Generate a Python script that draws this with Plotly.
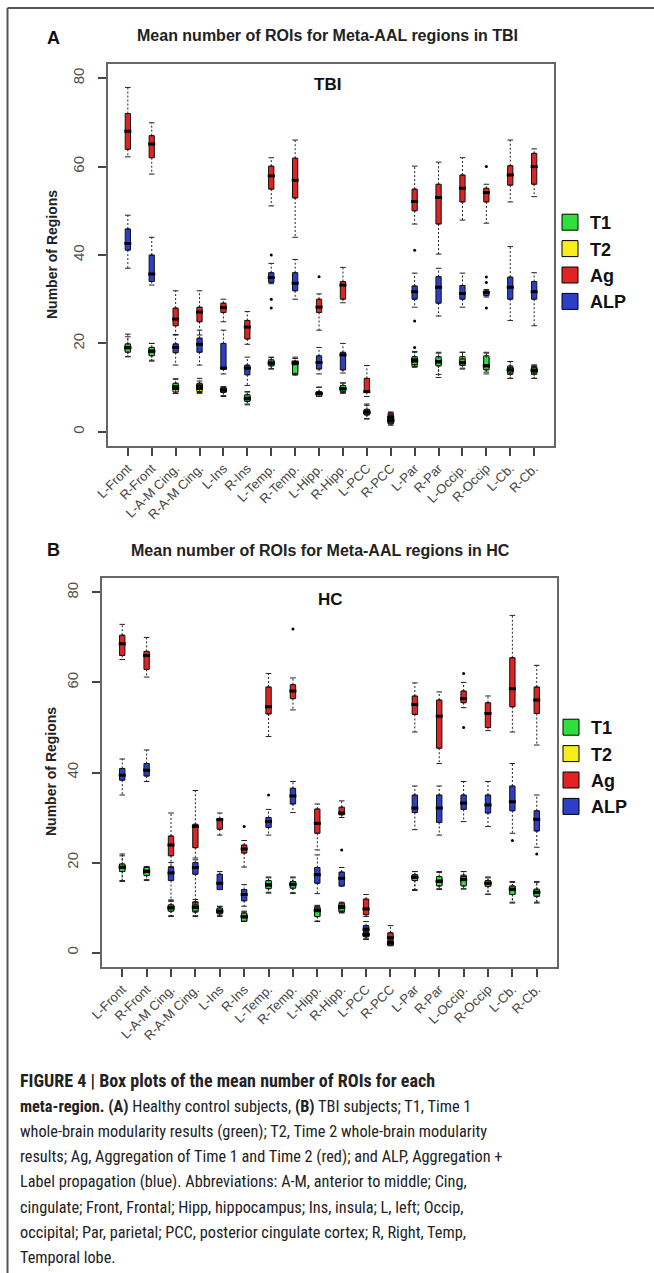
import plotly.graph_objects as go

CATEGORIES = ["L-Front", "R-Front", "L-A-M Cing.", "R-A-M Cing.", "L-Ins", "R-Ins",
              "L-Temp.", "R-Temp.", "L-Hipp.", "R-Hipp.", "L-PCC", "R-PCC",
              "L-Par", "R-Par", "L-Occip.", "R-Occip", "L-Cb.", "R-Cb."]
Y_TICKS = [0, 20, 40, 60, 80]
SERIES_NAMES = ["T1", "T2", "Ag", "ALP"]
SERIES_COLORS = ["#2fe03c", "#f6ec1e", "#e02424", "#2d3fc6"]

# each entry: (lower whisker, Q1, median, Q3, upper whisker) per category
TBI_T1 = [(17.0, 18.0, 19.1, 19.9, 22.1), (16.0, 17.2, 18.3, 19.1, 20.0),
          (8.7, 9.6, 10.2, 11.0, 11.9), (8.7, 9.6, 10.4, 11.0, 12.1),
          (8.0, 8.9, 9.5, 10.0, 10.2), (6.1, 6.9, 7.6, 8.4, 9.1),
          (14.2, 14.9, 15.5, 16.3, 16.9), (12.9, 12.9, 15.8, 15.9, 16.9),
          (8.0, 8.5, 8.7, 9.0, 10.1), (8.7, 9.1, 9.7, 10.5, 11.1),
          (3.0, 4.0, 4.4, 4.8, 6.0), (2.0, 2.2, 2.6, 3.0, 3.4),
          (14.8, 15.2, 16.3, 17.0, 18.2), (12.3, 14.9, 15.9, 17.0, 18.0),
          (14.2, 15.0, 15.7, 16.5, 18.0), (13.1, 14.0, 14.9, 17.2, 18.0),
          (12.1, 13.3, 14.0, 14.6, 15.9), (12.1, 13.3, 14.0, 14.6, 15.1)]
TBI_T2 = [(17.0, 18.2, 19.0, 19.7, 21.5), (16.2, 17.4, 18.2, 19.0, 20.0),
          (8.7, 9.0, 9.8, 10.8, 12.0), (8.9, 9.1, 9.9, 10.6, 11.5),
          (8.2, 9.0, 9.4, 9.9, 10.2), (6.3, 7.0, 7.5, 8.2, 9.0),
          (14.3, 15.0, 15.6, 16.1, 16.8), (13.2, 13.4, 15.4, 15.8, 16.6),
          (8.0, 8.0, 8.6, 9.1, 10.1), (8.9, 9.3, 9.8, 10.3, 11.0),
          (2.9, 3.8, 4.4, 5.1, 6.3), (2.0, 2.2, 2.5, 2.9, 3.3),
          (14.6, 14.8, 16.0, 16.8, 18.0), (13.0, 15.1, 15.8, 16.6, 17.8),
          (14.4, 15.2, 15.6, 17.0, 18.0), (13.5, 14.3, 15.0, 16.8, 17.8),
          (12.1, 13.0, 14.0, 14.9, 15.9), (12.1, 13.0, 13.8, 14.8, 15.1)]
TBI_AG = [(62.2, 63.9, 68.0, 72.0, 77.9), (58.3, 62.0, 65.1, 67.0, 69.9),
          (21.9, 24.0, 25.5, 28.0, 31.9), (21.9, 24.9, 27.1, 28.2, 31.9),
          (24.9, 27.0, 28.1, 29.1, 30.0), (19.8, 21.0, 23.7, 25.2, 27.2),
          (51.1, 54.9, 57.9, 60.1, 62.0), (44.0, 52.9, 56.9, 61.9, 66.0),
          (23.0, 27.0, 28.2, 30.0, 31.2), (29.2, 30.0, 33.2, 34.0, 37.2),
          (8.0, 8.9, 9.1, 12.1, 15.0), (1.8, 2.0, 3.3, 4.3, 4.5),
          (47.0, 50.0, 52.1, 54.9, 60.1), (40.2, 47.0, 53.0, 56.0, 61.0),
          (47.9, 52.0, 55.1, 58.1, 62.0), (47.2, 52.0, 54.1, 55.1, 56.0),
          (52.0, 55.8, 58.1, 60.2, 66.0), (53.2, 56.0, 60.0, 63.0, 64.0)]
TBI_ALP = [(37.0, 41.1, 42.6, 45.9, 49.0), (33.2, 34.0, 35.7, 40.0, 44.0),
           (15.1, 17.9, 19.1, 19.9, 22.0), (15.1, 18.0, 19.8, 21.2, 23.0),
           (13.1, 14.2, 14.4, 20.0, 23.0), (10.5, 12.9, 14.4, 15.1, 16.9),
           (33.5, 33.8, 34.9, 36.0, 38.1), (30.0, 31.9, 33.6, 36.0, 39.0),
           (13.1, 14.2, 15.7, 17.2, 19.1), (13.3, 14.0, 17.4, 18.0, 20.0),
           (4.0, 4.3, 4.5, 4.7, 5.0), (1.5, 1.8, 2.6, 3.6, 4.0),
           (28.2, 30.0, 31.7, 33.0, 35.9), (26.2, 29.1, 32.7, 35.1, 37.0),
           (28.2, 30.0, 31.3, 33.1, 35.9), (30.5, 30.8, 31.5, 31.9, 32.2),
           (25.2, 30.0, 32.7, 35.0, 41.9), (24.0, 30.0, 31.7, 34.0, 36.0)]
TBI_OUTLIERS_T1 = [("L-Par", 19.1)]
TBI_OUTLIERS_T2 = []
TBI_OUTLIERS_AG = [("L-Hipp.", 35.1), ("L-Par", 41.1), ("R-Occip", 60.0)]
TBI_OUTLIERS_ALP = [("L-Temp.", 40.0), ("L-Temp.", 30.0), ("L-Temp.", 28.0),
                    ("L-Par", 25.1), ("R-Occip", 35.0), ("R-Occip", 33.8), ("R-Occip", 28.0)]

HC_T1 = [(15.8, 18.0, 18.9, 19.7, 21.9), (16.0, 17.1, 18.0, 18.9, 19.1),
         (8.0, 9.2, 10.0, 10.6, 11.7), (8.0, 9.2, 10.0, 10.6, 11.1),
         (8.0, 8.6, 9.2, 9.9, 10.3), (6.9, 6.9, 8.0, 8.8, 9.2),
         (13.2, 14.2, 15.1, 16.0, 16.8), (13.1, 14.3, 15.2, 15.8, 16.8),
         (6.9, 8.0, 9.4, 9.9, 10.3), (9.0, 9.2, 10.0, 10.5, 11.0),
         (3.0, 3.6, 4.0, 4.5, 5.0), (1.6, 1.8, 2.0, 2.3, 2.6),
         (13.8, 16.0, 16.8, 17.3, 18.0), (14.0, 14.8, 15.8, 16.9, 18.0),
         (14.1, 14.8, 16.3, 16.9, 18.0), (12.9, 14.7, 15.4, 16.0, 16.8),
         (11.0, 12.9, 14.1, 14.8, 15.8), (11.0, 12.5, 13.4, 14.1, 15.8)]
HC_T2 = [(16.0, 18.2, 19.0, 19.5, 21.5), (16.2, 17.3, 18.1, 18.8, 19.1),
         (8.2, 9.3, 9.9, 10.5, 11.5), (8.2, 9.0, 10.1, 11.3, 11.8),
         (8.2, 8.7, 9.2, 9.8, 10.2), (7.0, 7.1, 7.9, 8.6, 9.0),
         (13.4, 14.4, 15.0, 15.8, 16.6), (13.3, 14.4, 15.1, 15.7, 16.6),
         (7.0, 8.1, 9.3, 10.2, 10.5), (8.8, 9.0, 10.3, 11.0, 11.2),
         (3.0, 3.5, 4.0, 4.4, 5.0), (1.6, 1.8, 2.0, 2.3, 2.6),
         (14.0, 16.1, 16.7, 17.2, 18.0), (14.2, 15.0, 15.9, 16.7, 17.8),
         (14.2, 15.0, 16.2, 17.2, 18.0), (13.0, 14.8, 15.4, 15.9, 16.6),
         (11.2, 13.0, 14.0, 14.7, 15.6), (11.2, 12.6, 13.4, 14.0, 15.6)]
HC_AG = [(65.1, 66.0, 68.6, 70.5, 72.9), (61.2, 62.9, 66.0, 66.9, 70.0),
         (19.1, 21.5, 23.9, 25.9, 31.0), (21.0, 23.3, 28.0, 28.5, 36.0),
         (26.1, 27.4, 29.5, 29.8, 31.0), (19.0, 22.1, 23.0, 23.9, 24.9),
         (48.0, 53.0, 54.6, 59.0, 62.0), (53.9, 56.4, 58.1, 59.5, 61.0),
         (22.8, 26.5, 28.7, 31.9, 33.0), (30.0, 30.6, 31.0, 32.3, 33.7),
         (8.0, 8.4, 9.7, 11.9, 12.9), (1.8, 2.7, 3.3, 4.4, 6.0),
         (49.0, 52.9, 55.1, 57.0, 59.9), (42.0, 45.4, 52.5, 56.1, 57.9),
         (54.4, 55.5, 56.4, 58.1, 60.0), (49.3, 50.0, 53.1, 55.5, 57.0),
         (49.0, 54.6, 58.6, 65.5, 74.9), (46.1, 53.1, 56.1, 59.0, 63.8)]
HC_ALP = [(35.0, 38.3, 39.4, 40.9, 43.0), (38.0, 39.2, 40.5, 42.0, 45.0),
          (11.4, 16.0, 17.7, 18.9, 20.0), (11.0, 17.4, 18.9, 20.0, 20.6),
          (14.0, 14.0, 15.4, 17.4, 18.0), (10.3, 11.5, 12.9, 14.0, 15.1),
          (26.1, 27.8, 29.1, 30.0, 31.8), (31.1, 33.0, 34.8, 36.5, 38.0),
          (13.1, 15.4, 17.3, 18.9, 21.7), (14.8, 14.8, 16.5, 17.9, 18.9),
          (2.9, 4.6, 5.2, 6.0, 6.9), (1.5, 1.9, 2.2, 2.5, 2.8),
          (27.3, 31.1, 32.1, 35.0, 37.0), (26.1, 28.9, 32.1, 35.0, 37.0),
          (29.1, 31.8, 33.2, 35.0, 38.0), (28.0, 31.0, 32.8, 35.0, 38.0),
          (26.5, 31.5, 33.5, 37.0, 42.0), (23.4, 27.0, 29.6, 31.5, 35.0)]
HC_OUTLIERS_T1 = []
HC_OUTLIERS_T2 = []
HC_OUTLIERS_AG = [("R-Ins", 28.0), ("R-Temp.", 71.9), ("R-Hipp.", 22.8),
                  ("L-Occip.", 62.0), ("L-Occip.", 50.0)]
HC_OUTLIERS_ALP = [("L-Temp.", 35.0), ("L-Cb.", 24.9), ("R-Cb.", 21.9)]

W, H = 654, 1273
FONT = "Liberation Sans, Arial, sans-serif"
CAP_FONT = "Liberation Sans Narrow, Roboto Condensed, Arial Narrow, Roboto, sans-serif"


def px_x(v):
    return v / W


def px_y(v):
    return 1 - v / H


fig = go.Figure()


def add_panel(series, outliers, xa, ya, legend_name):
    order = [1, 0, 2, 3]
    for i in order:
        st = series[i]
        q1 = [s[1] for s in st]
        med = [s[2] for s in st]
        q3 = [s[3] for s in st]
        fig.add_trace(go.Box(
            x=CATEGORIES, q1=q1, median=med, q3=q3, lowerfence=q1, upperfence=q3,
            width=0.22, fillcolor=SERIES_COLORS[i], line=dict(color="#111111", width=1),
            boxpoints=False, xaxis=xa, yaxis=ya, showlegend=False, hoverinfo="skip"))
    for i in order:
        st = series[i]
        wx, wy = [], []
        for c, s in zip(CATEGORIES, st):
            wx += [c, c, None, c, c, None]
            wy += [s[3], s[4], None, s[1], s[0], None]
        fig.add_trace(go.Scatter(
            x=wx, y=wy, mode="lines", line=dict(color="#222222", width=1, dash="2px,2px"),
            xaxis=xa, yaxis=ya, showlegend=False, hoverinfo="skip"))
        lo = [s[0] for s in st]
        hi = [s[4] for s in st]
        fig.add_trace(go.Scatter(
            x=CATEGORIES + CATEGORIES, y=lo + hi, mode="markers",
            marker=dict(symbol="line-ew", size=4, color="#222222",
                        line=dict(color="#222222", width=1)),
            xaxis=xa, yaxis=ya, showlegend=False, hoverinfo="skip"))
        fig.add_trace(go.Scatter(
            x=CATEGORIES, y=[s[2] for s in st], mode="markers",
            marker=dict(symbol="line-ew", size=5, color="black",
                        line=dict(color="black", width=3)),
            xaxis=xa, yaxis=ya, showlegend=False, hoverinfo="skip"))
        if outliers[i]:
            fig.add_trace(go.Scatter(
                x=[o[0] for o in outliers[i]], y=[o[1] for o in outliers[i]], mode="markers",
                marker=dict(symbol="circle", size=3, color="black"),
                xaxis=xa, yaxis=ya, showlegend=False, hoverinfo="skip"))
    for i in range(4):
        fig.add_trace(go.Scatter(
            x=[None], y=[None], mode="markers", name=SERIES_NAMES[i],
            marker=dict(symbol="square", size=16, color=SERIES_COLORS[i],
                        line=dict(color="black", width=1)),
            xaxis=xa, yaxis=ya, legend=legend_name, showlegend=True, hoverinfo="skip"))


add_panel([TBI_T1, TBI_T2, TBI_AG, TBI_ALP],
          [TBI_OUTLIERS_T1, TBI_OUTLIERS_T2, TBI_OUTLIERS_AG, TBI_OUTLIERS_ALP],
          "x", "y", "legend")
add_panel([HC_T1, HC_T2, HC_AG, HC_ALP],
          [HC_OUTLIERS_T1, HC_OUTLIERS_T2, HC_OUTLIERS_AG, HC_OUTLIERS_ALP],
          "x2", "y2", "legend2")

xcommon = dict(type="category", categoryorder="array", categoryarray=CATEGORIES,
               range=[-0.83, 17.83], showline=True, mirror=True, linecolor="#666666",
               linewidth=1.5, ticks="outside", ticklen=8, tickcolor="#444444", tickwidth=1.5,
               tickangle=-45, tickfont=dict(family=FONT, size=13, color="#444444"),
               showgrid=False, zeroline=False, fixedrange=True, automargin=False)
ycommon = dict(range=[-3.2, 83.2], tickvals=Y_TICKS, ticktext=[str(v) for v in Y_TICKS],
               showline=True, mirror=True, linecolor="#666666", linewidth=1.5,
               ticks="outside", ticklen=8, tickcolor="#444444", tickwidth=1.5,
               tickangle=-90, tickfont=dict(family=FONT, size=15, color="#505050"),
               ticklabelstandoff=8,
               showgrid=False, zeroline=False, fixedrange=True, automargin=False)

fig.update_layout(
    width=W, height=H, margin=dict(l=0, r=0, t=0, b=0, pad=0, autoexpand=False),
    paper_bgcolor="white", plot_bgcolor="white", boxmode="overlay",
    xaxis=dict(xcommon, domain=[px_x(108), px_x(554)], anchor="y"),
    yaxis=dict(ycommon, domain=[px_y(446), px_y(64)], anchor="x"),
    xaxis2=dict(xcommon, domain=[px_x(102), px_x(557)], anchor="y2"),
    yaxis2=dict(ycommon, domain=[px_y(967), px_y(578)], anchor="x2"),
    legend=dict(x=px_x(550), y=px_y(204), xanchor="left", yanchor="top",
                bgcolor="rgba(0,0,0,0)", tracegroupgap=0,
                font=dict(family=FONT, size=18, color="#111111", weight="bold")),
    legend2=dict(x=px_x(551), y=px_y(709), xanchor="left", yanchor="top",
                 bgcolor="rgba(0,0,0,0)", tracegroupgap=0,
                 font=dict(family=FONT, size=18, color="#111111", weight="bold")),
    showlegend=True,
)

ann = []


def text(x, y, s, size, bold=False, angle=0, color="#222222", xanchor="center", family=FONT):
    ann.append(dict(x=px_x(x), y=px_y(y), xref="paper", yref="paper", text=s,
                    showarrow=False, xanchor=xanchor, yanchor="middle", textangle=angle,
                    font=dict(family=family, size=size, color=color,
                              weight="bold" if bold else "normal")))


text(53, 38, "A", 18, bold=True, color="#111111")
text(327, 35, "Mean number of ROIs for Meta-AAL regions in TBI", 16, bold=True)
text(327, 84, "TBI", 17, bold=True, color="#111111")
text(52, 255, "Number of Regions", 14, bold=True, angle=-90)

text(53, 550, "B", 18, bold=True, color="#111111")
text(320, 550, "Mean number of ROIs for Meta-AAL regions in HC", 16, bold=True)
text(330, 599, "HC", 17, bold=True, color="#111111")
text(51, 772, "Number of Regions", 14, bold=True, angle=-90)

CAPTION = [
    "<b>FIGURE 4 | Box plots of the mean number of ROIs for each</b>",
    "<b>meta-region. (A)</b> Healthy control subjects, <b>(B)</b> TBI subjects; T1, Time 1",
    "whole-brain modularity results (green); T2, Time 2 whole-brain modularity",
    "results; Ag, Aggregation of Time 1 and Time 2 (red); and ALP, Aggregation +",
    "Label propagation (blue). Abbreviations: A-M, anterior to middle; Cing,",
    "cingulate; Front, Frontal; Hipp, hippocampus; Ins, insula; L, left; Occip,",
    "occipital; Par, parietal; PCC, posterior cingulate cortex; R, Right, Temp,",
    "Temporal lobe.",
]
CAP_Y = [1080, 1106, 1131, 1156, 1181, 1207, 1232, 1257]
CAP_SIZE = [18, 16.3, 16.3, 16.3, 16.3, 16.3, 16.3, 16.3]
for line, yy, sz in zip(CAPTION, CAP_Y, CAP_SIZE):
    text(18, yy, line, sz, color="#222222", xanchor="left", family=CAP_FONT)

fig.update_layout(annotations=ann)

fig.update_layout(shapes=[
    dict(type="line", xref="paper", yref="paper", x0=px_x(7.5), x1=1, y0=px_y(8), y1=px_y(8),
         line=dict(color="#555555", width=2)),
    dict(type="line", xref="paper", yref="paper", x0=px_x(7.5), x1=px_x(7.5), y0=0, y1=px_y(8),
         line=dict(color="#555555", width=2)),
])

fig.write_html("out.html", config={"displayModeBar": False, "responsive": False},
               post_script="document.body.style.margin='0';document.body.style.overflow='hidden';")
